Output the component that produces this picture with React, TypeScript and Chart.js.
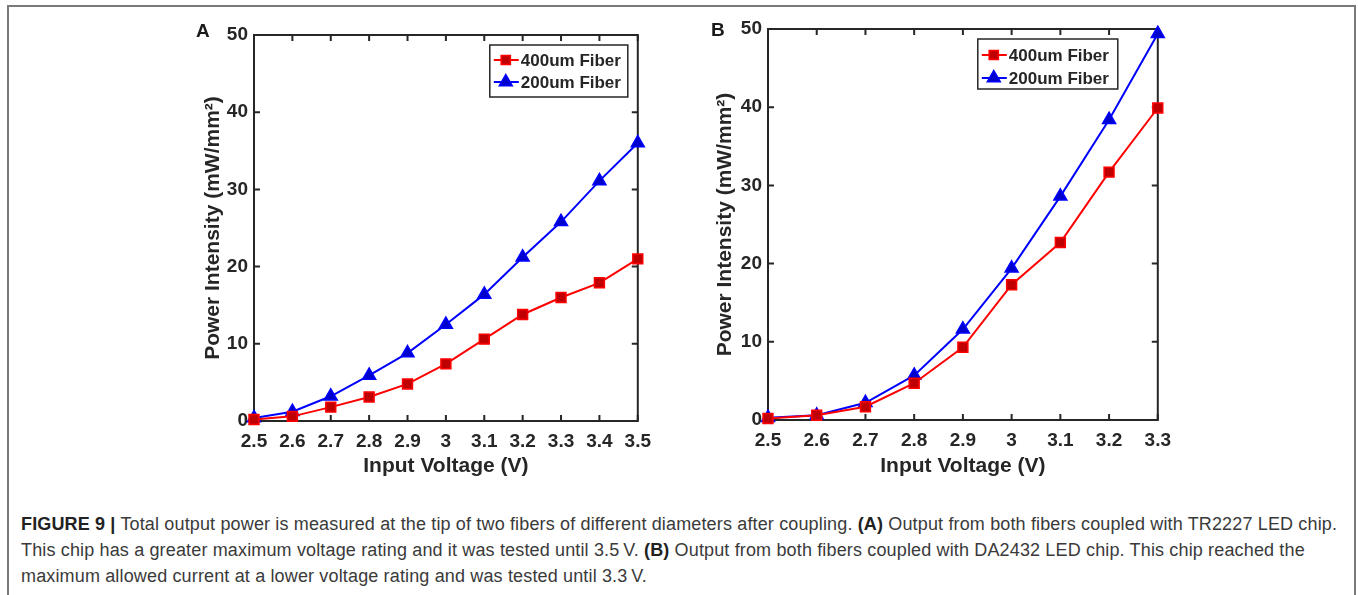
import React, { useEffect, useRef } from "react";
import { Chart, registerables } from "chart.js";

Chart.register(...registerables);

// ---------- data ----------
const voltageA = [2.5, 2.6, 2.7, 2.8, 2.9, 3.0, 3.1, 3.2, 3.3, 3.4, 3.5];
const fiber400A = [0.2, 0.6, 1.8, 3.1, 4.8, 7.4, 10.6, 13.8, 16.0, 17.9, 21.0];
const fiber200A = [0.4, 1.2, 3.2, 5.9, 8.8, 12.5, 16.4, 21.2, 25.8, 31.1, 36.0];

const voltageB = [2.5, 2.6, 2.7, 2.8, 2.9, 3.0, 3.1, 3.2, 3.3];
const fiber400B = [0.2, 0.6, 1.7, 4.7, 9.3, 17.3, 22.7, 31.7, 39.9];
const fiber200B = [0.3, 0.6, 2.2, 5.7, 11.6, 19.4, 28.6, 38.4, 49.4];

const yTicks = [0, 10, 20, 30, 40, 50];
const seriesLabels = ["400um Fiber", "200um Fiber"];
const xTitle = "Input Voltage (V)";
const yTitle = "Power Intensity (mW/mm\u00B2)";

// ---------- styles ----------
const AXIS = "#262626";
const FONT = '"Liberation Sans", Arial, sans-serif';
const RED = "#ff0000";
const RED_FILL = "#c00000";
const BLUE = "#0000ff";
const BLUE_FILL = "#0000cc";

const fmt = (v: number) => String(Number(v.toFixed(1)));

const framePlugin = {
  id: "matlabFrame",
  beforeDatasetsDraw(chart: any) {
    const { ctx, chartArea: a, scales } = chart;
    ctx.save();
    ctx.strokeStyle = AXIS;
    ctx.lineWidth = 2;
    ctx.strokeRect(a.left, a.top, a.right - a.left, a.bottom - a.top);
    const L = 6;
    ctx.beginPath();
    scales.x.ticks.forEach((t: any) => {
      const px = scales.x.getPixelForValue(t.value);
      ctx.moveTo(px, a.bottom);
      ctx.lineTo(px, a.bottom - L);
      ctx.moveTo(px, a.top);
      ctx.lineTo(px, a.top + L);
    });
    scales.y.ticks.forEach((t: any) => {
      const py = scales.y.getPixelForValue(t.value);
      ctx.moveTo(a.left, py);
      ctx.lineTo(a.left + L, py);
      ctx.moveTo(a.right, py);
      ctx.lineTo(a.right - L, py);
    });
    ctx.stroke();
    ctx.restore();
  },
};

function drawMarker(ctx: CanvasRenderingContext2D, style: string, x: number, y: number, r: number, fill: string, stroke: string) {
  ctx.beginPath();
  if (style === "rect") {
    const s = r / Math.SQRT2;
    ctx.rect(x - s, y - s, 2 * s, 2 * s);
  } else {
    ctx.moveTo(x, y - r);
    ctx.lineTo(x + r * Math.sin(Math.PI / 3), y + r * 0.5);
    ctx.lineTo(x - r * Math.sin(Math.PI / 3), y + r * 0.5);
    ctx.closePath();
  }
  ctx.fillStyle = fill;
  ctx.fill();
  ctx.strokeStyle = stroke;
  ctx.lineWidth = 1.5;
  ctx.stroke();
}

const boxLegendPlugin = {
  id: "boxLegend",
  afterDatasetsDraw(chart: any, _args: any, opts: any) {
    const { ctx, chartArea: a } = chart;
    const x0 = a.right - opts.right - opts.width;
    const y0 = a.top + opts.top;
    ctx.save();
    ctx.fillStyle = "#ffffff";
    ctx.fillRect(x0, y0, opts.width, opts.height);
    ctx.strokeStyle = AXIS;
    ctx.lineWidth = 1.5;
    ctx.strokeRect(x0, y0, opts.width, opts.height);
    chart.data.datasets.forEach((ds: any, i: number) => {
      const y = y0 + opts.rows[i];
      ctx.strokeStyle = ds.borderColor;
      ctx.lineWidth = 2;
      ctx.beginPath();
      ctx.moveTo(x0 + 4, y);
      ctx.lineTo(x0 + 29, y);
      ctx.stroke();
      drawMarker(ctx, ds.pointStyle, x0 + 16, y, ds.pointStyle === "rect" ? 6.5 : 7.5, ds.backgroundColor, ds.pointBorderColor);
      ctx.fillStyle = AXIS;
      ctx.font = `bold 17px ${FONT}`;
      ctx.textBaseline = "middle";
      ctx.textAlign = "left";
      ctx.fillText(ds.label, x0 + 31, y + 1);
    });
    ctx.restore();
  },
};

function makeDatasets(xs: number[], s400: number[], s200: number[]) {
  return [
    {
      label: seriesLabels[0],
      data: xs.map((x, i) => ({ x, y: s400[i] })),
      borderColor: RED,
      backgroundColor: RED_FILL,
      pointBorderColor: RED,
      pointBackgroundColor: RED_FILL,
      pointStyle: "rect",
      pointRadius: 7,
      pointBorderWidth: 1.5,
      borderWidth: 2,
      clip: false,
    },
    {
      label: seriesLabels[1],
      data: xs.map((x, i) => ({ x, y: s200[i] })),
      borderColor: BLUE,
      backgroundColor: BLUE_FILL,
      pointBorderColor: BLUE,
      pointBackgroundColor: BLUE_FILL,
      pointStyle: "triangle",
      pointRadius: 7.5,
      pointBorderWidth: 1.5,
      borderWidth: 2,
      clip: false,
    },
  ];
}

type PanelProps = {
  xs: number[];
  s400: number[];
  s200: number[];
  left: number;
  width: number;
  height: number;
  areaLeft: number;
  areaTop: number;
  areaRight: number;
  areaBottom: number;
  yTitlePad: number;
  legend: any;
};

function Panel(p: PanelProps) {
  const ref = useRef<HTMLCanvasElement>(null);
  useEffect(() => {
    if (!ref.current) return;
    const tickFont = { family: FONT, size: 19, weight: "bold" as const };
    const titleFont = { family: FONT, size: 21, weight: "bold" as const };
    const chart = new Chart(ref.current, {
      type: "line",
      data: { datasets: makeDatasets(p.xs, p.s400, p.s200) as any },
      plugins: [framePlugin, boxLegendPlugin],
      options: {
        animation: false,
        responsive: false,
        maintainAspectRatio: false,
        layout: { padding: { top: p.areaTop, right: p.width - p.areaRight, left: 0, bottom: 0 } },
        plugins: {
          legend: { display: false },
          tooltip: { enabled: false },
          boxLegend: p.legend,
        } as any,
        scales: {
          x: {
            type: "linear",
            min: p.xs[0],
            max: p.xs[p.xs.length - 1],
            afterBuildTicks: (s: any) => {
              s.ticks = p.xs.map((v) => ({ value: v }));
            },
            afterFit: (s: any) => {
              s.height = p.height - p.areaBottom;
            },
            grid: { display: false, drawTicks: false },
            border: { display: false },
            ticks: {
              callback: (v: any) => fmt(Number(v)),
              font: tickFont,
              color: AXIS,
              padding: 9,
              maxRotation: 0,
              autoSkip: false,
            },
            title: { display: true, text: xTitle, font: titleFont, color: AXIS, padding: { top: 0, bottom: 11 } },
          },
          y: {
            type: "linear",
            min: 0,
            max: 50,
            afterBuildTicks: (s: any) => {
              s.ticks = yTicks.map((v) => ({ value: v }));
            },
            afterFit: (s: any) => {
              s.width = p.areaLeft;
            },
            grid: { display: false, drawTicks: false },
            border: { display: false },
            ticks: { font: tickFont, color: AXIS, padding: 6 },
            title: { display: true, text: yTitle, font: titleFont, color: AXIS, padding: { top: p.yTitlePad, bottom: 0 } },
          },
        },
      } as any,
    });
    return () => chart.destroy();
  }, []);
  return (
    <canvas
      ref={ref}
      width={p.width}
      height={p.height}
      style={{ position: "absolute", left: p.left, top: 0, width: p.width, height: p.height }}
    />
  );
}

const capStyle: React.CSSProperties = { whiteSpace: "nowrap", height: 26 };

export default function App() {
  return (
    <div
      style={{
        position: "absolute",
        left: 0,
        top: 0,
        width: 1358,
        height: 595,
        overflow: "hidden",
        background: "#ffffff",
      }}
    >
      <div
        style={{
          position: "absolute",
          left: 7,
          top: 5,
          width: 1349,
          height: 700,
          border: "2px solid #7a7a7a",
          boxSizing: "border-box",
        }}
      />
      <Panel
        xs={voltageA}
        s400={fiber400A}
        s200={fiber200A}
        left={180}
        width={480}
        height={490}
        areaLeft={74}
        areaTop={35}
        areaRight={459}
        areaBottom={421}
        yTitlePad={21}
        legend={{ right: 10, top: 10, width: 138, height: 52, rows: [15, 37] }}
      />
      <Panel
        xs={voltageB}
        s400={fiber400B}
        s200={fiber200B}
        left={690}
        width={490}
        height={490}
        areaLeft={78}
        areaTop={29}
        areaRight={468}
        areaBottom={420}
        yTitlePad={23}
        legend={{ right: 40, top: 10, width: 140, height: 50, rows: [16, 39] }}
      />
      <div style={{ position: "absolute", left: 196, top: 20, font: `bold 19px ${FONT}`, color: "#1a1a1a" }}>A</div>
      <div style={{ position: "absolute", left: 711, top: 19, font: `bold 19px ${FONT}`, color: "#1a1a1a" }}>B</div>
      <div
        style={{
          position: "absolute",
          left: 21,
          top: 511,
          fontFamily: FONT,
          fontSize: 18,
          letterSpacing: "0.15px",
          lineHeight: "26px",
          color: "#3a3a3a",
        }}
      >
        <div style={capStyle}>
          <b style={{ color: "#222" }}>FIGURE 9 |</b> Total output power is measured at the tip of two fibers of different diameters after coupling.{" "}
          <b style={{ color: "#222" }}>(A)</b> Output from both fibers coupled with TR2227 LED chip.
        </div>
        <div style={capStyle}>
          This chip has a greater maximum voltage rating and it was tested until 3.5{"\u2009"}V. <b style={{ color: "#222" }}>(B)</b> Output from both fibers coupled with DA2432 LED chip. This chip reached the
        </div>
        <div style={capStyle}>maximum allowed current at a lower voltage rating and was tested until 3.3{"\u2009"}V.</div>
      </div>
    </div>
  );
}
